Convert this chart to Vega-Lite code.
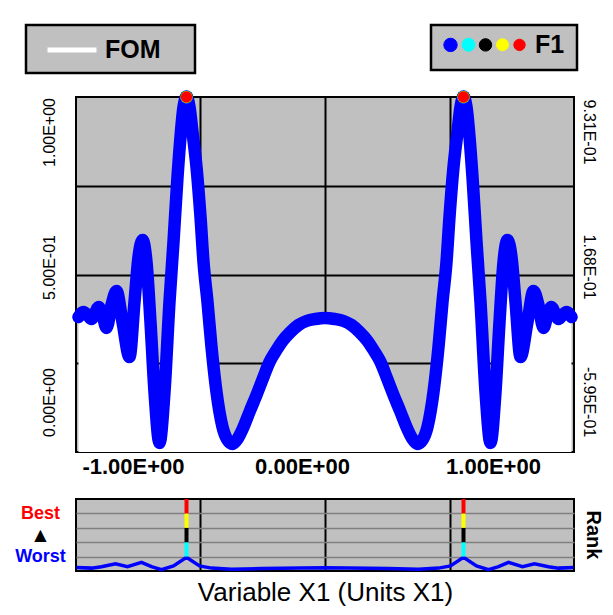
{
  "$schema": "https://vega.github.io/schema/vega-lite/v6.json",
  "background": "white",
  "padding": {"left": 13, "top": 23, "right": 5, "bottom": 5},
  "config": {
    "font": "Liberation Sans",
    "view": {"fill": "#C0C0C0", "stroke": "black", "strokeWidth": 2},
    "legend": {"strokeWidth": 2.5, "columnPadding": 0}
  },
  "datasets": {
    "curve": [
      {"x": -1.3694, "fom": 0.3148}, {"x": -1.3417, "fom": 0.3333}, {"x": -1.3194, "fom": 0.3222}, {"x": -1.2972, "fom": 0.3074},
      {"x": -1.2750, "fom": 0.3333}, {"x": -1.2583, "fom": 0.3518}, {"x": -1.2361, "fom": 0.3222}, {"x": -1.2139, "fom": 0.2741},
      {"x": -1.1861, "fom": 0.3592}, {"x": -1.1584, "fom": 0.4111}, {"x": -1.1250, "fom": 0.2963}, {"x": -1.0861, "fom": 0.1667},
      {"x": -1.0583, "fom": 0.3704}, {"x": -1.0361, "fom": 0.5370}, {"x": -1.0139, "fom": 0.6000}, {"x": -0.9916, "fom": 0.5185},
      {"x": -0.9695, "fom": 0.2963}, {"x": -0.9472, "fom": 0.0370}, {"x": -0.9195, "fom": -0.1519}, {"x": -0.8917, "fom": 0.0370},
      {"x": -0.8639, "fom": 0.3704}, {"x": -0.8417, "fom": 0.5926}, {"x": -0.8194, "fom": 0.8333}, {"x": -0.8028, "fom": 0.9815},
      {"x": -0.7861, "fom": 1.0926}, {"x": -0.7694, "fom": 1.1296}, {"x": -0.7527, "fom": 1.0926}, {"x": -0.7362, "fom": 1.0000},
      {"x": -0.7139, "fom": 0.8704}, {"x": -0.6916, "fom": 0.6852}, {"x": -0.6750, "fom": 0.5185}, {"x": -0.6528, "fom": 0.3704},
      {"x": -0.6305, "fom": 0.2037}, {"x": -0.6028, "fom": 0.0370}, {"x": -0.5694, "fom": -0.0926}, {"x": -0.5417, "fom": -0.1408},
      {"x": -0.5139, "fom": -0.1556}, {"x": -0.4862, "fom": -0.1370}, {"x": -0.4528, "fom": -0.0926}, {"x": -0.4195, "fom": -0.0370},
      {"x": -0.3805, "fom": 0.0259}, {"x": -0.3417, "fom": 0.0926}, {"x": -0.3084, "fom": 0.1481}, {"x": -0.2694, "fom": 0.1926},
      {"x": -0.2361, "fom": 0.2259}, {"x": -0.1916, "fom": 0.2592}, {"x": -0.1472, "fom": 0.2852}, {"x": -0.1028, "fom": 0.3000},
      {"x": -0.0528, "fom": 0.3074}, {"x": 0.0, "fom": 0.3111},
      {"x": 0.0528, "fom": 0.3074}, {"x": 0.1028, "fom": 0.3000}, {"x": 0.1472, "fom": 0.2852}, {"x": 0.1916, "fom": 0.2592},
      {"x": 0.2361, "fom": 0.2259}, {"x": 0.2694, "fom": 0.1926}, {"x": 0.3084, "fom": 0.1481}, {"x": 0.3417, "fom": 0.0926},
      {"x": 0.3805, "fom": 0.0259}, {"x": 0.4195, "fom": -0.0370}, {"x": 0.4528, "fom": -0.0926}, {"x": 0.4862, "fom": -0.1370},
      {"x": 0.5139, "fom": -0.1556}, {"x": 0.5417, "fom": -0.1408}, {"x": 0.5694, "fom": -0.0926}, {"x": 0.6028, "fom": 0.0370},
      {"x": 0.6305, "fom": 0.2037}, {"x": 0.6528, "fom": 0.3704}, {"x": 0.6750, "fom": 0.5185}, {"x": 0.6916, "fom": 0.6852},
      {"x": 0.7139, "fom": 0.8704}, {"x": 0.7362, "fom": 1.0000}, {"x": 0.7527, "fom": 1.0926}, {"x": 0.7694, "fom": 1.1296},
      {"x": 0.7861, "fom": 1.0926}, {"x": 0.8028, "fom": 0.9815}, {"x": 0.8194, "fom": 0.8333}, {"x": 0.8417, "fom": 0.5926},
      {"x": 0.8639, "fom": 0.3704}, {"x": 0.8917, "fom": 0.0370}, {"x": 0.9195, "fom": -0.1519}, {"x": 0.9472, "fom": 0.0370},
      {"x": 0.9695, "fom": 0.2963}, {"x": 0.9916, "fom": 0.5185}, {"x": 1.0139, "fom": 0.6000}, {"x": 1.0361, "fom": 0.5370},
      {"x": 1.0583, "fom": 0.3704}, {"x": 1.0861, "fom": 0.1667}, {"x": 1.1250, "fom": 0.2963}, {"x": 1.1584, "fom": 0.4111},
      {"x": 1.1861, "fom": 0.3592}, {"x": 1.2139, "fom": 0.2741}, {"x": 1.2361, "fom": 0.3222}, {"x": 1.2583, "fom": 0.3518},
      {"x": 1.2750, "fom": 0.3333}, {"x": 1.2972, "fom": 0.3074}, {"x": 1.3194, "fom": 0.3222}, {"x": 1.3417, "fom": 0.3333},
      {"x": 1.3694, "fom": 0.3148}
    ],
    "peaks": [
      {"x": -0.7694, "f1": 1.126, "rank": 1, "level": 0, "top": 1},
      {"x": -0.7694, "f1": 1.126, "rank": 2, "level": 1, "top": 2},
      {"x": -0.7694, "f1": 1.126, "rank": 3, "level": 2, "top": 3},
      {"x": -0.7694, "f1": 1.126, "rank": 4, "level": 3, "top": 4},
      {"x": -0.7694, "f1": 1.126, "rank": 5, "level": 4, "top": 5},
      {"x": 0.7694, "f1": 1.126, "rank": 1, "level": 0, "top": 1},
      {"x": 0.7694, "f1": 1.126, "rank": 2, "level": 1, "top": 2},
      {"x": 0.7694, "f1": 1.126, "rank": 3, "level": 2, "top": 3},
      {"x": 0.7694, "f1": 1.126, "rank": 4, "level": 3, "top": 4},
      {"x": 0.7694, "f1": 1.126, "rank": 5, "level": 4, "top": 5}
    ],
    "rankline": [
      {"x": -1.3805, "level": 0.25}, {"x": -1.2972, "level": 0.2}, {"x": -1.2416, "level": 0.3}, {"x": -1.1639, "level": 0.5},
      {"x": -1.0973, "level": 0.3}, {"x": -1.0194, "level": 0.6}, {"x": -0.9639, "level": 0.3}, {"x": -0.9084, "level": 0.1},
      {"x": -0.8417, "level": 0.35}, {"x": -0.7694, "level": 0.95}, {"x": -0.6972, "level": 0.35}, {"x": -0.6305, "level": 0.2},
      {"x": -0.5194, "level": 0.12}, {"x": -0.3528, "level": 0.17}, {"x": -0.1305, "level": 0.2}, {"x": 0.0, "level": 0.22},
      {"x": 0.1305, "level": 0.2}, {"x": 0.3528, "level": 0.17}, {"x": 0.5194, "level": 0.12}, {"x": 0.6305, "level": 0.2},
      {"x": 0.6972, "level": 0.35}, {"x": 0.7694, "level": 0.95}, {"x": 0.8417, "level": 0.35}, {"x": 0.9084, "level": 0.1},
      {"x": 0.9639, "level": 0.3}, {"x": 1.0194, "level": 0.6}, {"x": 1.0973, "level": 0.3}, {"x": 1.1639, "level": 0.5},
      {"x": 1.2416, "level": 0.3}, {"x": 1.2972, "level": 0.2}, {"x": 1.3805, "level": 0.25}
    ]
  },
  "spacing": 47,
  "bounds": "flush",
  "vconcat": [
    {
      "width": 498,
      "height": 355,
      "encoding": {
        "x": {
          "field": "x", "type": "quantitative",
          "scale": {"domain": [-1.3833, 1.3833], "nice": false, "zero": false},
          "axis": {
            "values": [-1, -0.69167, 0, 0.69167, 1],
            "labelExpr": "datum.value == -1 ? '-1.00E+00' : datum.value == 0 ? '0.00E+00' : datum.value == 1 ? '1.00E+00' : ''",
            "grid": true, "gridColor": "black", "gridWidth": 2,
            "gridOpacity": {"condition": {"test": "abs(datum.value) == 1", "value": 0}, "value": 1},
            "ticks": false, "domain": false, "title": null,
            "labelFontSize": 22, "labelFontWeight": "bold", "labelColor": "black", "labelPadding": 4,
            "labelOffset": {"condition": {"test": "datum.value == 0", "value": -23}, "value": -12},
            "labelFlush": false, "labelOverlap": false, "labelBound": false
          }
        }
      },
      "layer": [
        {
          "data": {"name": "curve"},
          "encoding": {
            "y": {
              "field": "fom", "type": "quantitative",
              "scale": {"domain": [-0.1852, 1.1296], "nice": false, "zero": false},
              "axis": {
                "orient": "left",
                "values": [0, 0.1435, 0.4722, 0.5, 0.8009, 1],
                "labelExpr": "datum.value == 0 ? '0.00E+00' : datum.value == 0.5 ? '5.00E-01' : datum.value == 1 ? '1.00E+00' : ''",
                "grid": true, "gridColor": "black", "gridWidth": 2,
                "gridOpacity": {"condition": {"test": "datum.value == 0 || datum.value == 0.5 || datum.value == 1", "value": 0}, "value": 1},
                "ticks": false, "domain": false, "title": null,
                "labelAngle": 270, "labelAlign": "center", "labelBaseline": "alphabetic",
                "labelFontSize": 16, "labelPadding": 22, "labelColor": "black",
                "labelOverlap": false, "labelFlush": false, "labelBound": false
              }
            }
          },
          "layer": [
            {
              "mark": {"type": "area", "fill": "white", "interpolate": "monotone", "strokeWidth": 0},
              "encoding": {
                "y2": {"datum": -0.1852},
                "stroke": {
                  "datum": "FOM", "type": "nominal",
                  "scale": {"range": ["white"]},
                  "legend": {
                    "orient": "none", "legendX": -50, "legendY": -72,
                    "title": "0", "titleOrient": "right", "titleFontSize": 25, "titleFontWeight": "bold",
                    "titleColor": "transparent", "titleOpacity": 0, "titlePadding": 10,
                    "direction": "horizontal",
                    "fillColor": "#C0C0C0", "strokeColor": "black", "padding": 10,
                    "symbolType": "M-2,0H2", "symbolSize": 600, "symbolStrokeWidth": 5,
                    "symbolStrokeColor": "white", "symbolOffset": 21,
                    "labelFontSize": 25, "labelFontWeight": "bold", "labelColor": "black", "labelOffset": 18,
                    "labelLimit": 300
                  }
                }
              }
            },
            {
              "mark": {"type": "line", "color": "#0000FF", "strokeWidth": 12.5, "interpolate": "monotone", "strokeCap": "round", "strokeJoin": "round"}
            }
          ]
        },
        {
          "data": {"name": "peaks"},
          "mark": {"type": "point", "filled": true, "opacity": 1},
          "encoding": {
            "y": {
              "field": "f1", "type": "quantitative",
              "scale": {"domain": [-0.880, 1.126], "nice": false, "zero": false},
              "axis": {
                "orient": "right",
                "values": [-0.595, 0.168, 0.931],
                "labelExpr": "datum.value == 0.931 ? '9.31E-01' : datum.value == 0.168 ? '1.68E-01' : '-5.95E-01'",
                "grid": false, "ticks": false, "domain": false, "title": null,
                "labelAngle": 90, "labelAlign": "center", "labelBaseline": "alphabetic",
                "labelFontSize": 16, "labelPadding": 9, "labelColor": "black",
                "labelOverlap": false, "labelFlush": false, "labelBound": false
              }
            },
            "color": {
              "field": "rank", "type": "ordinal",
              "scale": {"domain": [1, 2, 3, 4, 5], "range": ["#0000FF", "#00FFFF", "#000000", "#FFFF00", "#FF0000"]},
              "legend": {
                "orient": "none", "legendX": 355, "legendY": -72, "direction": "horizontal", "columns": 5,
                "title": "F1\u00a0\u00a0\u00a0", "titleOrient": "right", "titleFontSize": 25, "titleFontWeight": "bold", "titleColor": "black",
                "titleAnchor": "middle", "titleBaseline": "middle", "titleAlign": "left", "titlePadding": 8,
                "fillColor": "#C0C0C0", "strokeColor": "black", "padding": 12,
                "symbolType": "circle", "symbolSize": 145, "symbolStrokeColor": "black", "symbolStrokeWidth": 1,
                "columnPadding": 0, "labelOffset": 0,
                "labelExpr": "''",
                "labelFontSize": 1
              }
            },
            "size": {
              "field": "rank", "type": "ordinal",
              "scale": {"domain": [1, 2, 3, 4, 5], "range": [180, 130, 35, 30, 14]},
              "legend": null
            }
          }
        }
      ],
      "resolve": {"scale": {"y": "independent"}}
    },
    {
      "width": 498,
      "height": 72,
      "title": {"text": "Rank", "orient": "right", "fontSize": 20, "fontWeight": "bold", "offset": 3, "color": "black"},
      "encoding": {
        "x": {
          "field": "x", "type": "quantitative",
          "scale": {"domain": [-1.3833, 1.3833], "nice": false, "zero": false},
          "axis": {
            "values": [-0.69167, 0, 0.69167],
            "grid": true, "gridColor": "black", "gridWidth": 2,
            "labels": false, "ticks": false, "domain": false,
            "title": "Variable X1 (Units X1)", "titleFontSize": 26, "titleFontWeight": "normal",
            "titleColor": "black", "titlePadding": 8
          }
        },
        "y": {
          "field": "level", "type": "quantitative",
          "scale": {"domain": [0, 5], "nice": false, "zero": false},
          "axis": {
            "values": [1, 2, 2.5, 3, 4],
            "labelExpr": "datum.value == 4 ? 'Best' : datum.value == 2.5 ? '▲' : datum.value == 1 ? 'Worst' : ''",
            "labelColor": {"condition": [{"test": "datum.value == 4", "value": "#FF0000"}, {"test": "datum.value == 1", "value": "#0000FF"}], "value": "black"},
            "labelFontSize": {"condition": {"test": "datum.value == 2.5", "value": 21}, "value": 18},
            "labelFontWeight": "bold",
            "labelAlign": "center", "labelBaseline": "middle", "labelPadding": 36,
            "grid": true, "gridColor": "#7F7F7F", "gridWidth": 1.5,
            "gridOpacity": {"condition": {"test": "datum.value == 2.5", "value": 0}, "value": 1},
            "ticks": false, "domain": false, "title": null,
            "labelOverlap": false, "labelFlush": false, "labelBound": false
          }
        }
      },
      "layer": [
        {
          "data": {"name": "rankline"},
          "mark": {"type": "line", "color": "#0000FF", "strokeWidth": 3.5}
        },
        {
          "data": {"name": "peaks"},
          "transform": [{"filter": "datum.rank > 1"}],
          "mark": {"type": "rule", "strokeWidth": 4},
          "encoding": {
            "y2": {"field": "top"},
            "color": {
              "field": "rank", "type": "ordinal",
              "scale": {"domain": [1, 2, 3, 4, 5], "range": ["#0000FF", "#00FFFF", "#000000", "#FFFF00", "#FF0000"]},
              "legend": {
                "orient": "none", "legendX": 355, "legendY": -72, "direction": "horizontal", "columns": 5,
                "title": "F1\u00a0\u00a0\u00a0", "titleOrient": "right", "titleFontSize": 25, "titleFontWeight": "bold", "titleColor": "black",
                "titleAnchor": "middle", "titleBaseline": "middle", "titleAlign": "left", "titlePadding": 8,
                "fillColor": "#C0C0C0", "strokeColor": "black", "padding": 12,
                "symbolType": "circle", "symbolSize": 145, "symbolStrokeColor": "black", "symbolStrokeWidth": 1,
                "columnPadding": 0, "labelOffset": 0,
                "labelExpr": "''",
                "labelFontSize": 1
              }
            }
          }
        }
      ]
    }
  ]
}
